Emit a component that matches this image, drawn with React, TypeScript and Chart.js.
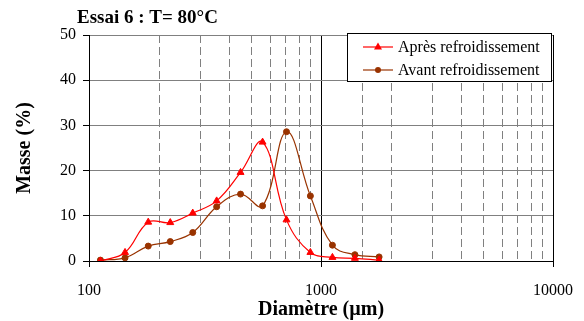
import React, { useEffect, useRef } from 'react';
import { Chart, registerables } from 'chart.js';

Chart.register(...registerables);

const diameters = [112, 143, 180, 224, 280, 355, 450, 560, 710, 900, 1120, 1400, 1780];
const apres = [0.0, 1.9, 8.6, 8.5, 10.6, 13.3, 19.6, 26.3, 9.1, 1.9, 0.8, 0.6, 0.2];
const avant = [0.2, 0.7, 3.3, 4.3, 6.3, 12.0, 14.8, 12.2, 28.6, 14.4, 3.5, 1.4, 0.9];
const seriesLabels = ['Après refroidissement', 'Avant refroidissement'];
const seriesColors = ['#FF0000', '#993300'];
const seriesMarkers = ['triangle', 'circle'];
const yMin = 0;
const yMax = 50;
const yStep = 10;
const xMin = 100;
const xMax = 10000;
const titleText = 'Essai 6 : T= 80°C';
const xTitle = 'Diamètre (µm)';
const yTitle = 'Masse (%)';

const FONT = "'Liberation Serif', 'Times New Roman', serif";

const isPow10 = (v: number) => {
  const l = Math.log10(v);
  return Math.abs(l - Math.round(l)) < 1e-6;
};

const decor = {
  id: 'decor',
  beforeDatasetsDraw(chart: any) {
    const { ctx, chartArea: a } = chart;
    const x = chart.scales.x;
    ctx.save();
    ctx.strokeStyle = '#808080';
    ctx.lineWidth = 1;
    ctx.setLineDash([8, 4]);
    x.ticks.forEach((t: any) => {
      if (isPow10(t.value)) return;
      const px = Math.round(x.getPixelForValue(t.value)) + 0.5;
      ctx.beginPath();
      ctx.moveTo(px, a.top);
      ctx.lineTo(px, a.bottom);
      ctx.stroke();
    });
    ctx.restore();
  },
  afterDraw(chart: any) {
    const { ctx, chartArea: a } = chart;
    ctx.save();
    ctx.fillStyle = '#000';
    // chart title
    ctx.font = `bold 19px ${FONT}`;
    ctx.textAlign = 'left';
    ctx.textBaseline = 'alphabetic';
    ctx.fillText(titleText, 77, 23);
    // x axis title
    ctx.font = `bold 20px ${FONT}`;
    ctx.textAlign = 'center';
    ctx.fillText(xTitle, (a.left + a.right) / 2, 315);
    // y axis title
    ctx.save();
    ctx.translate(25, (a.top + a.bottom) / 2);
    ctx.rotate(-Math.PI / 2);
    ctx.textBaseline = 'middle';
    ctx.fillText(yTitle, 0, 0);
    ctx.restore();
    // legend box
    const bx = 347, by = 33, bw = 204, bh = 48;
    ctx.fillStyle = '#fff';
    ctx.fillRect(bx, by, bw, bh);
    ctx.strokeStyle = '#000';
    ctx.lineWidth = 1;
    ctx.strokeRect(bx + 0.5, by + 0.5, bw, bh);
    const rows = [47, 70];
    seriesLabels.forEach((lab, i) => {
      const y = rows[i];
      ctx.strokeStyle = seriesColors[i];
      ctx.lineWidth = 1.2;
      ctx.beginPath();
      ctx.moveTo(363, y);
      ctx.lineTo(393, y);
      ctx.stroke();
      ctx.fillStyle = seriesColors[i];
      ctx.beginPath();
      if (seriesMarkers[i] === 'triangle') {
        ctx.moveTo(378, y - 4.5);
        ctx.lineTo(382, y + 2.5);
        ctx.lineTo(374, y + 2.5);
        ctx.closePath();
      } else {
        ctx.arc(378, y, 3, 0, Math.PI * 2);
      }
      ctx.fill();
      ctx.fillStyle = '#000';
      ctx.font = `16px ${FONT}`;
      ctx.textAlign = 'left';
      ctx.textBaseline = 'middle';
      ctx.fillText(lab, 398, y + 1);
    });
    ctx.restore();
  },
};

export default function App() {
  const ref = useRef<HTMLCanvasElement | null>(null);
  useEffect(() => {
    document.body.style.margin = '0';
    const canvas = ref.current;
    if (!canvas) return;
    const chart = new Chart(canvas, {
      type: 'line',
      data: {
        datasets: [
          {
            label: seriesLabels[0],
            data: diameters.map((d, i) => ({ x: d, y: apres[i] })),
            borderColor: seriesColors[0],
            backgroundColor: seriesColors[0],
            pointBackgroundColor: seriesColors[0],
            pointBorderColor: seriesColors[0],
            pointStyle: 'triangle',
            pointRadius: 4,
            pointBorderWidth: 1,
            borderWidth: 1.2,
            tension: 0.4,
          },
          {
            label: seriesLabels[1],
            data: diameters.map((d, i) => ({ x: d, y: avant[i] })),
            borderColor: seriesColors[1],
            backgroundColor: seriesColors[1],
            pointBackgroundColor: seriesColors[1],
            pointBorderColor: seriesColors[1],
            pointStyle: 'circle',
            pointRadius: 3,
            pointBorderWidth: 1,
            borderWidth: 1.2,
            tension: 0.4,
          },
        ],
      },
      options: {
        animation: false,
        responsive: false,
        maintainAspectRatio: false,
        events: [],
        layout: { padding: { top: 35, right: 31, bottom: 0, left: 0 } },
        plugins: {
          legend: { display: false },
          tooltip: { enabled: false },
          title: { display: false },
        },
        scales: {
          x: {
            type: 'logarithmic',
            min: xMin,
            max: xMax,
            border: { color: '#000', width: 1 },
            grid: {
              color: (c: any) => (c.tick && isPow10(c.tick.value) ? '#000' : 'rgba(0,0,0,0)'),
              tickColor: (c: any) => (c.tick && isPow10(c.tick.value) ? '#000' : 'rgba(0,0,0,0)'),
              tickLength: 6,
              lineWidth: 1,
            },
            ticks: {
              autoSkip: false,
              maxRotation: 0,
              minRotation: 0,
              padding: 14,
              color: '#000',
              font: { family: FONT, size: 16 },
              callback: (v: any) => (isPow10(Number(v)) ? String(Math.round(Number(v))) : ''),
            },
            afterFit: (s: any) => {
              s.height = 60;
              s.paddingLeft = 0;
              s.paddingRight = 0;
            },
          },
          y: {
            min: yMin,
            max: yMax,
            border: { color: '#000', width: 1 },
            grid: {
              color: '#808080',
              tickColor: '#000',
              tickLength: 6,
              lineWidth: 1,
            },
            ticks: {
              stepSize: yStep,
              padding: 7,
              color: '#000',
              font: { family: FONT, size: 16 },
            },
            afterFit: (s: any) => {
              s.width = 89;
              s.paddingTop = 0;
              s.paddingBottom = 0;
            },
          },
        },
      },
      plugins: [decor],
    } as any);
    return () => chart.destroy();
  }, []);
  return (
    <div style={{ position: 'absolute', left: 0, top: 0, width: 584, height: 321 }}>
      <canvas ref={ref} width={584} height={321} />
    </div>
  );
}
